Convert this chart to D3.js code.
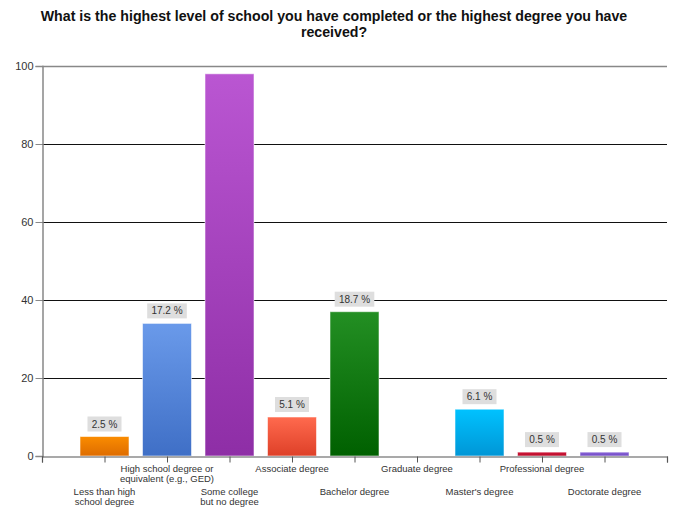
<!DOCTYPE html>
<html>
<head>
<meta charset="utf-8">
<script src="https://cdn.jsdelivr.net/npm/d3@7"></script>
<style>
  html, body { margin: 0; padding: 0; background: #fff; }
  svg { display: block; }
</style>
</head>
<body>
<svg id="chart" width="678" height="510"></svg>
<script>
// Survey responses: highest level of schooling completed
const categories = [
  "Less than high school degree",
  "High school degree or equivalent (e.g., GED)",
  "Some college but no degree",
  "Associate degree",
  "Bachelor degree",
  "Graduate degree",
  "Master's degree",
  "Professional degree",
  "Doctorate degree"
];
// wrapped axis label lines for each category
const labelLines = [
  ["Less than high", "school degree"],
  ["High school degree or", "equivalent (e.g., GED)"],
  ["Some college", "but no degree"],
  ["Associate degree"],
  ["Bachelor degree"],
  ["Graduate degree"],
  ["Master's degree"],
  ["Professional degree"],
  ["Doctorate degree"]
];
const counts = [5, 34, 98, 10, 37, 0, 12, 1, 1];
const percentLabels = ["2.5 %", "17.2 %", null, "5.1 %", "18.7 %", null, "6.1 %", "0.5 %", "0.5 %"];
const barColors = [
  ["#fa8c00", "#de6c00"],
  ["#6a9aea", "#3f6fc6"],
  ["#ba56d2", "#8e2ea6"],
  ["#ff6a4e", "#de4028"],
  ["#238f23", "#006000"],
  ["#999999", "#777777"],
  ["#00c2ff", "#0096d6"],
  ["#d0183a", "#b80c28"],
  ["#8a66d8", "#7048c4"]
];
const yTicks = [0, 20, 40, 60, 80, 100];

const svg = d3.select("#chart");
const margin = { left: 42, right: 11, top: 66, bottom: 54 };
const W = 678, H = 510;
const x0 = margin.left, x1 = W - margin.right;
const yTop = margin.top, yBot = H - margin.bottom;

// category positions sit on ticks 1..9 of a 0..10 linear scale
const x = d3.scaleLinear().domain([0, categories.length + 1]).range([x0, x1]);
const y = d3.scaleLinear().domain([0, 100]).range([yBot, yTop]);
const barW = 49;

// gradients
const defs = svg.append("defs");
barColors.forEach((c, i) => {
  const g = defs.append("linearGradient")
    .attr("id", "grad" + i).attr("x1", 0).attr("y1", 0).attr("x2", 0).attr("y2", 1);
  g.append("stop").attr("offset", "0%").attr("stop-color", c[0]);
  g.append("stop").attr("offset", "100%").attr("stop-color", c[1]);
});

// title
const title = svg.append("text")
  .attr("x", 334).attr("y", 21)
  .attr("text-anchor", "middle")
  .style("font-family", "'Liberation Sans', Arial, sans-serif")
  .style("font-weight", "bold")
  .style("font-size", "14.2px")
  .attr("fill", "#111");
title.append("tspan").attr("x", 334).attr("dy", 0)
  .text("What is the highest level of school you have completed or the highest degree you have");
title.append("tspan").attr("x", 334).attr("dy", 15.5).text("received?");

// grid lines
svg.append("g").selectAll("line")
  .data(yTicks.filter(d => d > 0))
  .join("line")
  .attr("x1", x0).attr("x2", x1)
  .attr("y1", d => Math.round(y(d)) + 0.5).attr("y2", d => Math.round(y(d)) + 0.5)
  .attr("stroke", d => d === 100 ? "#888" : "#111")
  .attr("stroke-width", d => d === 100 ? 1.5 : 1);

// y axis
const yAxis = svg.append("g")
  .attr("transform", `translate(${x0 + 0.5},0)`)
  .call(d3.axisLeft(y).tickValues(yTicks).tickSize(7).tickPadding(2));
yAxis.select(".domain").attr("stroke", "#888").attr("stroke-width", 1.5);
yAxis.selectAll(".tick line").attr("stroke", "#888");
yAxis.selectAll("text")
  .style("font-family", "'Liberation Sans', Arial, sans-serif")
  .style("font-size", "11px").attr("fill", "#333");

// bars
svg.append("g").selectAll("rect")
  .data(counts.map((v, i) => ({ v, i })).filter(d => d.v > 0))
  .join("rect")
  .attr("x", d => x(d.i + 1) - barW / 2)
  .attr("y", d => y(d.v))
  .attr("width", barW)
  .attr("height", d => yBot - y(d.v))
  .attr("fill", d => `url(#grad${d.i})`)
  .attr("stroke", "rgba(255,255,255,0.55)")
  .attr("stroke-width", 1);

// value labels
const lab = svg.append("g").selectAll("g")
  .data(counts.map((v, i) => ({ v, i, t: percentLabels[i] })).filter(d => d.t))
  .join("g")
  .attr("transform", d => `translate(${x(d.i + 1)},${y(d.v) - 5})`);
lab.append("rect")
  .attr("x", d => -(d.t.length * 5.6 + 6) / 2)
  .attr("y", -15)
  .attr("width", d => d.t.length * 5.6 + 6)
  .attr("height", 15)
  .attr("fill", "#dedede");
lab.append("text")
  .attr("y", -4)
  .attr("text-anchor", "middle")
  .style("font-family", "'Liberation Sans', Arial, sans-serif")
  .style("font-size", "10px")
  .attr("fill", "#333")
  .text(d => d.t);

// x axis
const xAxis = svg.append("g")
  .attr("transform", `translate(0,${yBot + 0.5})`)
  .call(d3.axisBottom(x).tickValues(d3.range(0, categories.length + 2)).tickSize(6).tickFormat(""));
xAxis.select(".domain").attr("stroke", "#555").attr("stroke-width", 1.2);
xAxis.selectAll(".tick line").attr("stroke", "#555");

// category labels, alternating rows
const catG = svg.append("g").selectAll("text")
  .data(labelLines.map((lines, i) => ({ lines, i })))
  .join("text")
  .attr("text-anchor", "middle")
  .style("font-family", "'Liberation Sans', Arial, sans-serif")
  .style("font-size", "9.5px")
  .attr("fill", "#333")
  .attr("transform", d => `translate(${x(d.i + 1)},${d.i % 2 === 1 ? yBot + 16 : yBot + 39})`);
catG.selectAll("tspan")
  .data(d => d.lines)
  .join("tspan")
  .attr("x", 0)
  .attr("dy", (d, j) => j === 0 ? 0 : 10)
  .text(d => d);
</script>
</body>
</html>
